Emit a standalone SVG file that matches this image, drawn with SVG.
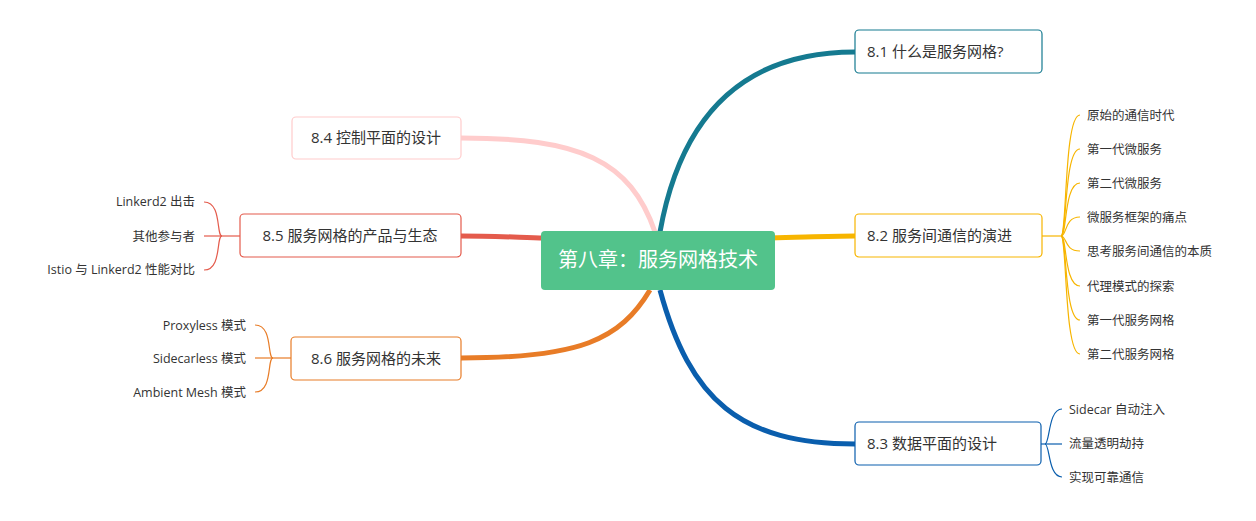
<svg xmlns="http://www.w3.org/2000/svg" width="1256" height="521" viewBox="0 0 1256 521">
<style>
text{font-family:"Open Sans","Noto Sans CJK SC",sans-serif;fill:#333}
.n{font-size:15px}
.s{font-size:12.5px}
.b{fill:#fff;stroke-width:1.2}
.c{fill:none}
</style>
<rect width="1256" height="521" fill="#fff"/>
<g id="connectors" class="c">
<path d="M660 232 C680 120 740 52 855 52" stroke="#157a90" stroke-width="5" fill="none"/>
<path d="M770 238 C810 237 830 236 855 236" stroke="#f7b500" stroke-width="5" fill="none"/>
<path d="M660 290 C690 400 740 444 855 444" stroke="#0a5ead" stroke-width="5" fill="none"/>
<path d="M655 232 C630 160 580 138 461 138" stroke="#ffcccc" stroke-width="5" fill="none"/>
<path d="M545 238 C510 237 490 236 461 236" stroke="#e45b4c" stroke-width="5" fill="none"/>
<path d="M650 290 C620 340 580 358 461 358" stroke="#e87c27" stroke-width="5" fill="none"/>
<g stroke="#f7b500" stroke-width="1.2" fill="none">
<path d="M1042 236 H1061"/>
<path d="M1061 236 C1067 236 1064 115 1080 115"/>
<path d="M1061 236 C1067 236 1064 149 1080 149"/>
<path d="M1061 236 C1067 236 1064 183 1080 183"/>
<path d="M1061 236 C1067 236 1064 217 1080 217"/>
<path d="M1061 236 C1067 236 1064 251 1080 251"/>
<path d="M1061 236 C1067 236 1064 286 1080 286"/>
<path d="M1061 236 C1067 236 1064 320 1080 320"/>
<path d="M1061 236 C1067 236 1064 354 1080 354"/>
</g>
<g stroke="#0a5ead" stroke-width="1.2" fill="none">
<path d="M1041 444 H1045"/>
<path d="M1045 444 C1050 444 1048 409 1062 409"/>
<path d="M1045 444 H1062"/>
<path d="M1045 444 C1050 444 1048 477 1062 477"/>
</g>
<g stroke="#e45b4c" stroke-width="1.2" fill="none">
<path d="M240 236 H222"/>
<path d="M222 236 C216 236 222 202 204 202"/>
<path d="M222 236 H204"/>
<path d="M222 236 C216 236 222 270 204 270"/>
</g>
<g stroke="#e87c27" stroke-width="1.2" fill="none">
<path d="M291 358 H273"/>
<path d="M273 358 C267 358 273 325 255 325"/>
<path d="M273 358 H255"/>
<path d="M273 358 C267 358 273 392 255 392"/>
</g>
</g>
<g id="center"><rect x="541" y="231" width="234" height="59" rx="4" fill="#52c38b"/><text x="658" y="267" text-anchor="middle" font-size="20" style="fill:#fff">第八章：服务网格技术</text></g>
<g id="n81"><rect class="b" x="855" y="30" width="187" height="43" rx="4" stroke="#157a90"/><text class="n" x="867" y="57">8.1 什么是服务网格?</text></g>
<g id="n82"><rect class="b" x="855" y="214" width="187" height="43" rx="4" stroke="#f7b500"/><text class="n" x="867" y="241">8.2 服务间通信的演进</text></g>
<g id="n83"><rect class="b" x="855" y="422" width="186" height="43" rx="4" stroke="#0a5ead"/><text class="n" x="867" y="449">8.3 数据平面的设计</text></g>
<g id="n84"><rect class="b" x="292" y="117" width="169" height="42" rx="4" stroke="#ffcccc"/><text class="n" x="376" y="143" text-anchor="middle">8.4 控制平面的设计</text></g>
<g id="n85"><rect class="b" x="240" y="214" width="221" height="43" rx="4" stroke="#e45b4c"/><text class="n" x="350" y="241" text-anchor="middle">8.5 服务网格的产品与生态</text></g>
<g id="n86"><rect class="b" x="291" y="337" width="170" height="43" rx="4" stroke="#e87c27"/><text class="n" x="376" y="364" text-anchor="middle">8.6 服务网格的未来</text></g>
<g id="c82" class="s">
<text class="s" x="1087" y="120">原始的通信时代</text>
<text class="s" x="1087" y="154">第一代微服务</text>
<text class="s" x="1087" y="188">第二代微服务</text>
<text class="s" x="1087" y="222">微服务框架的痛点</text>
<text class="s" x="1087" y="256">思考服务间通信的本质</text>
<text class="s" x="1087" y="291">代理模式的探索</text>
<text class="s" x="1087" y="325">第一代服务网格</text>
<text class="s" x="1087" y="359">第二代服务网格</text>
</g>
<g id="c83">
<text class="s" x="1069" y="414">Sidecar 自动注入</text>
<text class="s" x="1069" y="448">流量透明劫持</text>
<text class="s" x="1069" y="482">实现可靠通信</text>
</g>
<g id="c85" text-anchor="end">
<text class="s" x="195" y="206">Linkerd2 出击</text>
<text class="s" x="195" y="241">其他参与者</text>
<text class="s" x="195" y="274">Istio 与 Linkerd2 性能对比</text>
</g>
<g id="c86" text-anchor="end">
<text class="s" x="246" y="330">Proxyless 模式</text>
<text class="s" x="246" y="363">Sidecarless 模式</text>
<text class="s" x="246" y="397">Ambient Mesh 模式</text>
</g>
</svg>
